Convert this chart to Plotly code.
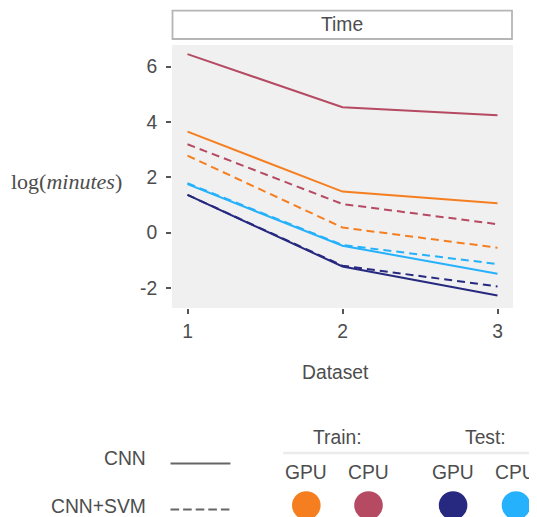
import plotly.graph_objects as go

# ---- data ----
datasets = [1, 2, 3]
train_gpu_cnn = [3.65, 1.48, 1.06]
train_cpu_cnn = [6.45, 4.53, 4.24]
test_gpu_cnn = [1.36, -1.23, -2.28]
test_cpu_cnn = [1.75, -0.48, -1.49]
train_gpu_svm = [2.78, 0.18, -0.55]
train_cpu_svm = [3.19, 1.03, 0.30]
test_gpu_svm = [1.36, -1.20, -1.95]
test_cpu_svm = [1.78, -0.45, -1.14]

y_tickvals = [-2, 0, 2, 4, 6]
y_ticktext = ["-2", "0", "2", "4", "6"]
x_tickvals = [1, 2, 3]

c_train_gpu = "#F57F20"
c_train_cpu = "#B54A62"
c_test_gpu = "#26297F"
c_test_cpu = "#25B1FB"

# page has an 8px body margin: figure is drawn at (8, 8) in the window
OFF = 8
WIN_W, WIN_H = 537, 517
W, H = WIN_W - OFF, WIN_H - OFF
# plot area in window pixels
L, R, T, B = 171.5, 513, 45, 308.3
TXT = "#4d4d4d"
SANS = "Liberation Sans, Arial, Helvetica, sans-serif"
FS = 19.3


def px(x):
    return (x - L) / (R - L)


def py(y):
    return (B - y) / (B - T)


fig = go.Figure()
DASH = "8px,5px"
series = [
    (train_cpu_svm, c_train_cpu, DASH),
    (train_gpu_svm, c_train_gpu, DASH),
    (test_cpu_svm, c_test_cpu, DASH),
    (test_gpu_svm, c_test_gpu, DASH),
    (train_cpu_cnn, c_train_cpu, "solid"),
    (train_gpu_cnn, c_train_gpu, "solid"),
    (test_cpu_cnn, c_test_cpu, "solid"),
    (test_gpu_cnn, c_test_gpu, "solid"),
]
for vals, col, dash in series:
    fig.add_trace(go.Scatter(x=datasets, y=vals, mode="lines",
                             line=dict(color=col, width=2, dash=dash),
                             showlegend=False, hoverinfo="skip"))

fig.update_layout(
    width=W, height=H,
    margin=dict(l=L - OFF, r=WIN_W - R, t=T - OFF, b=WIN_H - B, pad=0),
    paper_bgcolor="white",
    plot_bgcolor="#f0f0f0",
    showlegend=False,
    font=dict(family=SANS, color=TXT, size=FS),
    xaxis=dict(range=[0.9, 3.1], tickvals=x_tickvals, ticktext=[str(v) for v in x_tickvals],
               showgrid=False, zeroline=False, showline=False,
               ticks="outside", ticklen=5, tickwidth=1.5, tickcolor="#555",
               ticklabelstandoff=1,
               tickfont=dict(size=FS, color=TXT, family=SANS)),
    yaxis=dict(range=[-2.73, 6.78], tickvals=y_tickvals, ticktext=y_ticktext,
               showgrid=False, zeroline=False, showline=False,
               ticks="outside", ticklen=5, tickwidth=1.5, tickcolor="#555",
               ticklabelstandoff=5,
               tickfont=dict(size=FS, color=TXT, family=SANS)),
)

shapes = []
annos = []
# facet strip
shapes.append(dict(type="rect", xref="paper", yref="paper",
                   x0=px(172), x1=px(512), y0=py(39), y1=py(10.5),
                   line=dict(color="#b5b5b5", width=1.8), fillcolor="white"))
annos.append(dict(text="Time", x=px(342), y=py(24.5), xref="paper", yref="paper",
                  showarrow=False, xanchor="center", yanchor="middle",
                  font=dict(size=FS, color=TXT, family=SANS)))
# axis titles
annos.append(dict(text="Dataset", x=px(335), y=py(373), xref="paper", yref="paper",
                  showarrow=False, xanchor="center", yanchor="middle",
                  font=dict(size=FS, color=TXT, family=SANS)))
annos.append(dict(text="log(<i>minutes</i>)", x=px(66), y=py(182), xref="paper", yref="paper",
                  showarrow=False, xanchor="center", yanchor="middle",
                  font=dict(size=22, color=TXT, family="Liberation Serif, Times New Roman, serif")))

# linetype legend
annos.append(dict(text="CNN", x=px(147), y=py(459), xref="paper", yref="paper",
                  showarrow=False, xanchor="right", yanchor="middle",
                  font=dict(size=FS, color=TXT, family=SANS)))
annos.append(dict(text="CNN+SVM", x=px(147), y=py(507.5), xref="paper", yref="paper",
                  showarrow=False, xanchor="right", yanchor="middle",
                  font=dict(size=FS, color=TXT, family=SANS)))
shapes.append(dict(type="line", xref="paper", yref="paper",
                   x0=px(170), x1=px(230), y0=py(464), y1=py(464),
                   line=dict(color="#666666", width=2)))
shapes.append(dict(type="line", xref="paper", yref="paper",
                   x0=px(170), x1=px(229), y0=py(510), y1=py(510),
                   line=dict(color="#666666", width=2, dash="8.6px,4px")))

# colour legend
annos.append(dict(text="Train:", x=px(337.5), y=py(437.5), xref="paper", yref="paper",
                  showarrow=False, xanchor="center", yanchor="middle",
                  font=dict(size=FS, color=TXT, family=SANS)))
annos.append(dict(text="Test:", x=px(485), y=py(437.5), xref="paper", yref="paper",
                  showarrow=False, xanchor="center", yanchor="middle",
                  font=dict(size=FS, color=TXT, family=SANS)))
shapes.append(dict(type="line", xref="paper", yref="paper",
                   x0=px(283), x1=px(540), y0=py(453.5), y1=py(453.5),
                   line=dict(color="#ebebeb", width=2.5)))
legend_items = [("GPU", 306, c_train_gpu), ("CPU", 368.3, c_train_cpu),
                ("GPU", 453, c_test_gpu), ("CPU", 516, c_test_cpu)]
for lab, cx, col in legend_items:
    annos.append(dict(text=lab, x=px(cx), y=py(472.5), xref="paper", yref="paper",
                      showarrow=False, xanchor="center", yanchor="middle",
                      font=dict(size=FS, color=TXT, family=SANS)))
    r = 14.3
    shapes.append(dict(type="circle", xref="paper", yref="paper",
                       x0=px(cx - r), x1=px(cx + r), y0=py(506 + r), y1=py(506 - r),
                       line=dict(width=0), fillcolor=col))

fig.update_layout(shapes=shapes, annotations=annos)
fig.write_html("out.html")
